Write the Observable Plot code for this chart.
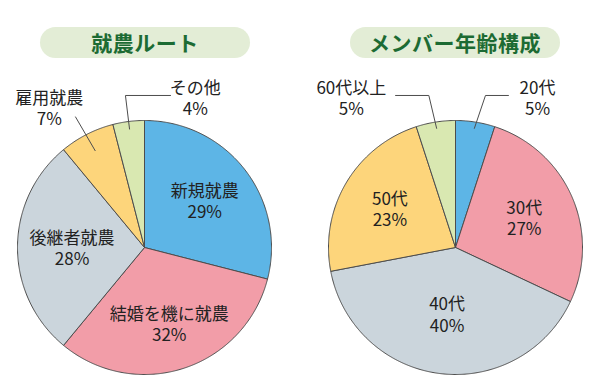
<!DOCTYPE html>
<html>
<head>
<meta charset="utf-8">
<script src="https://cdn.jsdelivr.net/npm/d3@7"></script>
<script src="https://cdn.jsdelivr.net/npm/@observablehq/plot@0.6"></script>
<style>
  html, body { margin: 0; padding: 0; background: #fff; }
  #wrap { position: relative; width: 600px; height: 388px; overflow: hidden; background: #fff; }
  .pill { position: absolute; top: 27px; width: 210px; height: 31px; border-radius: 16px;
          background: #e3edd6; color: #1c6b33; font-family: "Noto Sans CJK JP", sans-serif;
          font-weight: 700; font-size: 21px; line-height: 31px; text-align: center; letter-spacing: 0.5px; }
  .chart { position: absolute; top: 68px; width: 300px; height: 320px; }
</style>
</head>
<body>
<div id="wrap">
  <div class="pill" id="t1" style="left:40px"></div>
  <div class="pill" id="t2" style="left:350px"></div>
  <div class="chart" id="c1" style="left:0px"></div>
  <div class="chart" id="c2" style="left:300px"></div>
</div>
<script>
// ---- data ----
const titles = ["就農ルート", "メンバー年齢構成"];
const routeNames = ["新規就農", "結婚を機に就農", "後継者就農", "雇用就農", "その他"];
const routeValues = [29, 32, 28, 7, 4];
const ageNames = ["20代", "30代", "40代", "50代", "60代以上"];
const ageValues = [5, 27, 40, 23, 5];

// ---- style / layout ----
const sliceColors = ["#5db5e6", "#f29da8", "#cbd5dc", "#fdd57b", "#d9e8b1"];
const R = 127;           // pie radius in px
const H = 320;           // svg height
const CY = 179;          // pie center y within svg
const FONT = '"Noto Sans CJK JP", "Noto Sans", sans-serif';

// label placement (layout only)
const routeLayout = {
  cx: 144,
  inside: {"新規就農": 0.6, "結婚を機に就農": 0.63, "後継者就農": 0.57},
  outside: {
    "雇用就農": {lx: -0.75, ly: 1.098, path: [[-0.543, 1.028]], ar: 0.856},
    "その他":   {lx: 0.40, ly: 1.177, path: [[0.205, 1.197], [-0.15, 1.197]], ar: 0.94}
  }
};
const ageLayout = {
  cx: 155,
  inside: {"30代": 0.59, "40代": 0.53, "50代": 0.6},
  outside: {
    "20代":     {lx: 0.646, ly: 1.177, path: [[0.417, 1.197], [0.236, 1.197]], ar: 0.95},
    "60代以上": {lx: -0.82, ly: 1.177, path: [[-0.472, 1.197], [-0.21, 1.197]], ar: 0.95}
  }
};

function pieChart(names, values, layout) {
  const rows = names.map((n, i) => ({name: n, value: values[i]}));
  const arcs = d3.pie().sort(null).value(d => d.value)(rows);
  const poly = [];
  const labels = [];
  const leaders = [];
  for (const a of arcs) {
    const name = a.data.name;
    poly.push({name, x: 0, y: 0});
    const n = Math.max(2, Math.ceil((a.endAngle - a.startAngle) / (Math.PI / 360)));
    for (let k = 0; k <= n; k++) {
      const t = a.startAngle + (a.endAngle - a.startAngle) * k / n;
      poly.push({name, x: Math.sin(t), y: Math.cos(t)});
    }
    poly.push({name, x: 0, y: 0});
    const mid = (a.startAngle + a.endAngle) / 2;
    const text = `${name}\n${a.data.value}%`;
    if (layout.outside[name]) {
      const o = layout.outside[name];
      labels.push({text, x: o.lx, y: o.ly});
      for (const p of o.path) leaders.push({name, x: p[0], y: p[1]});
      leaders.push({name, x: o.ar * Math.sin(mid), y: o.ar * Math.cos(mid)});
    } else {
      const r = layout.inside[name] ?? 0.6;
      labels.push({text, x: r * Math.sin(mid), y: r * Math.cos(mid)});
    }
  }
  const W = 300;
  return Plot.plot({
    width: W, height: H, margin: 0,
    style: {fontFamily: FONT, background: "transparent", overflow: "visible"},
    x: {domain: [-layout.cx / R, (W - layout.cx) / R], axis: null},
    y: {domain: [-(H - CY) / R, CY / R], axis: null},
    color: {domain: names, range: sliceColors},
    marks: [
      Plot.line(poly, {x: "x", y: "y", z: "name", fill: "name", stroke: "#4d4d4d", strokeWidth: 1, strokeLinejoin: "round"}),
      Plot.line(leaders, {x: "x", y: "y", z: "name", stroke: "#4d4d4d", strokeWidth: 1}),
      Plot.text(labels, {x: "x", y: "y", text: "text", fontSize: 17, lineHeight: 1.24, fill: "#222", fontFamily: FONT})
    ]
  });
}

document.getElementById("t1").textContent = titles[0];
document.getElementById("t2").textContent = titles[1];
document.getElementById("c1").append(pieChart(routeNames, routeValues, routeLayout));
document.getElementById("c2").append(pieChart(ageNames, ageValues, ageLayout));
</script>
</body>
</html>
